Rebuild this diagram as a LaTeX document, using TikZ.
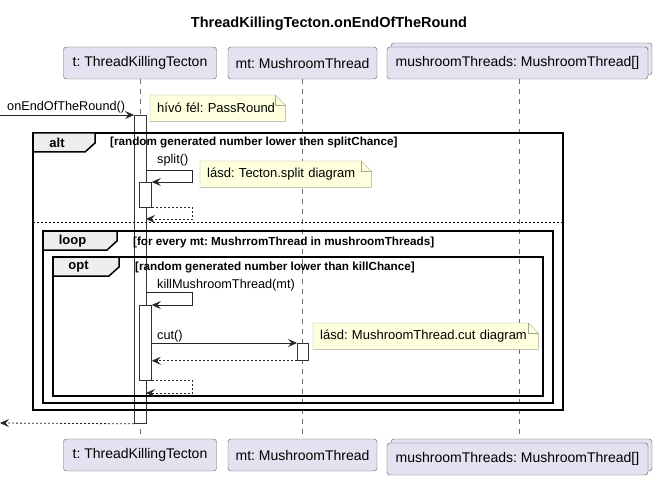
\documentclass[tikz,border=0pt]{standalone}
\usepackage{fontspec}
\setmainfont{Liberation Sans}
\usetikzlibrary{arrows.meta,positioning,shadows,backgrounds}
\frenchspacing

\definecolor{partfill}{RGB}{226,226,240}
\definecolor{partline}{RGB}{90,90,90}
\definecolor{notefill}{RGB}{254,255,221}
\definecolor{noteline}{RGB}{165,165,150}
\definecolor{tabfill}{RGB}{238,238,238}
\definecolor{lifegray}{RGB}{110,110,110}

% note paper with folded corner round a named node
\newcommand{\notepaper}[1]{%
  \filldraw[fill=notefill,draw=noteline] (#1.north west) -- ([xshift=-10pt]#1.north east)
    -- ([yshift=-10pt]#1.north east) -- (#1.south east) -- (#1.south west) -- cycle;
  \draw[noteline] ([xshift=-10pt]#1.north east) |- ([yshift=-10pt]#1.north east);
}

\begin{document}
\begin{tikzpicture}[x=1pt,y=-1pt,
    part/.style={draw=partline,fill=partfill,rounded corners=3pt,minimum height=32pt,
      inner sep=0pt,font=\fontsize{14}{17}\selectfont},
    partstack/.style={part,copy shadow={shadow xshift=4pt,shadow yshift=4pt}},
    lifeline/.style={lifegray,dash pattern=on 5pt off 5pt,line width=0.6pt},
    actbar/.style={draw=black!80,fill=white,minimum width=12pt,inner sep=0pt,
      anchor=north west,line width=0.8pt},
    msg/.style={-{Stealth[length=9pt,width=8pt,inset=3.5pt]},line width=0.8pt,black!85},
    reply/.style={msg,dash pattern=on 2pt off 2pt},
    msglabel/.style={anchor=base west,inner sep=0pt,font=\fontsize{12.7}{15}\selectfont},
    frame/.style={line width=1.5pt},
    tab/.style={frame,fill=tabfill},
    tablabel/.style={inner sep=0pt,font=\bfseries\fontsize{13}{15}\selectfont},
    guard/.style={anchor=west,inner sep=0pt,font=\bfseries\fontsize{11.7}{13}\selectfont},
    sepline/.style={line width=0.8pt,dash pattern=on 2pt off 2pt},
    note/.style={anchor=north west,inner xsep=7pt,inner ysep=0pt,align=left,
      minimum height=26pt,font=\fontsize{13}{15}\selectfont}]

    \useasboundingbox (0,0) rectangle (658,481);

    \node[font=\bfseries\fontsize{14.5}{17}\selectfont] (title) at (329,24) {ThreadKillingTecton.onEndOfTheRound};

    % participants
    \node[part,minimum width=153pt] (t_top) at (140,63) {t: ThreadKillingTecton};
    \node[part,minimum width=149pt] (mt_top) at (302.5,63) {mt: MushroomThread};
    \node[partstack,minimum width=261pt] (ms_top) at (517.5,63) {mushroomThreads: MushroomThread[]};

    \node[part,minimum width=153pt] (t_bot) at (140,455) {t: ThreadKillingTecton};
    \node[part,minimum width=149pt] (mt_bot) at (302.5,455) {mt: MushroomThread};
    \node[partstack,minimum width=261pt] (ms_bot) at (517.5,459) {mushroomThreads: MushroomThread[]};

    \begin{scope}[on background layer]
      \draw[lifeline] (t_top.south) -- (t_bot.north);
      \draw[lifeline] (mt_top.south) -- (mt_bot.north);
      \draw[lifeline] ([xshift=2pt]ms_top.south) -- ([xshift=2pt]ms_bot.north);
    \end{scope}

    % activations
    \node[actbar,minimum height=308pt] (t_act) at (134,115) {};
    \node[actbar,minimum height=25pt] (split_act) at (139,182) {};
    \node[actbar,minimum height=75pt] (kill_act) at (139,305) {};
    \node[actbar,minimum width=11pt,minimum height=17pt] (mt_act) at (297,343) {};

    % alt
    \draw[frame] (33,133) rectangle (563,410);
    \draw[tab] (33,133) -- (95,133) -- (95,143) -- (85,152) -- (33,152) -- cycle;
    \node[tablabel] (alt_lbl) at (57,143) {alt};
    \node[guard] (alt_guard) at (110,143) {[random generated number lower then splitChance]};
    \draw[sepline] (33,222) -- (563,222);

    % loop
    \draw[frame] (43,231) rectangle (553,403);
    \draw[tab] (43,231) -- (117,231) -- (117,241) -- (107,250) -- (43,250) -- cycle;
    \node[tablabel] (loop_lbl) at (72.5,241) {loop};
    \node[guard] (loop_guard) at (133,242) {[for every mt: MushrromThread in mushroomThreads]};

    % opt
    \draw[frame] (53,257) rectangle (543,396);
    \draw[tab] (53,257) -- (119,257) -- (119,267) -- (109,276) -- (53,276) -- cycle;
    \node[tablabel] (opt_lbl) at (78.5,266.5) {opt};
    \node[guard] (opt_guard) at (135,267) {[random generated number lower than killChance]};

    % messages
    \coordinate (caller) at (0,115);
    \coordinate (caller_back) at (0,423);
    \coordinate (split_from) at (146,170);
    \coordinate (split_back) at (146,219);
    \coordinate (kill_from) at (146,292);
    \coordinate (kill_back) at (146,393);

    \draw[msg] (caller) -- (t_act.north west);
    \node[msglabel] (call_lbl) at (7,111) {onEndOfTheRound()};

    \draw[msg] (split_from) -- ++(46,0) |- (split_act.north east);
    \node[msglabel] (split_lbl) at (157,164) {split()};
    \draw[reply] (split_act.south east) -- ++(41,0) |- (split_back);

    \draw[msg] (kill_from) -- ++(46,0) |- (kill_act.north east);
    \node[msglabel] (kill_lbl) at (157,288) {killMushroomThread(mt)};

    \draw[msg] (kill_act.east |- mt_act.north west) -- (mt_act.north west);
    \node[msglabel] (cut_lbl) at (157,339) {cut()};
    \draw[reply] (mt_act.south west) -- (kill_act.east |- mt_act.south west);

    \draw[reply] (kill_act.south east) -- ++(41,0) |- (kill_back);
    \draw[reply] (t_act.south west) -- (caller_back);

    % notes
    \node[note,text width=121pt] (note_pass) at (150,95) {hívó fél: PassRound};
    \node[note,text width=157pt] (note_split) at (200,161) {lásd: Tecton.split diagram};
    \node[note,text width=211pt] (note_cut) at (313,323) {lásd: MushroomThread.cut diagram};
    \begin{scope}[on background layer]
      \notepaper{note_pass}
      \notepaper{note_split}
      \notepaper{note_cut}
    \end{scope}

\end{tikzpicture}
\end{document}
